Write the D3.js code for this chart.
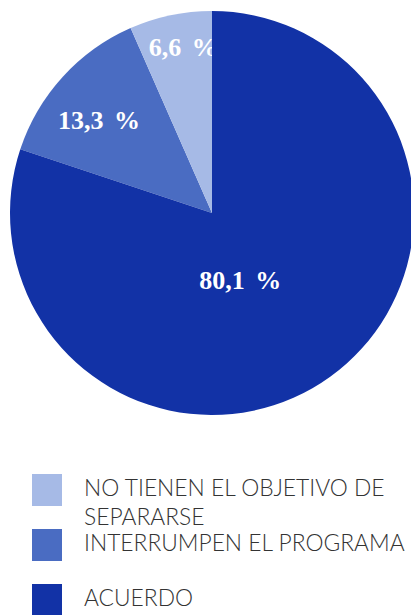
<!DOCTYPE html>
<html>
<head>
<meta charset="utf-8">
<script src="https://cdn.jsdelivr.net/npm/d3@7"></script>
<style>
  html, body { margin: 0; padding: 0; background: #fff; }
  svg { display: block; }
</style>
</head>
<body>
<svg id="chart" width="411" height="615"></svg>
<script>
// slices, clockwise from 12 o'clock
const categories = ['ACUERDO', 'INTERRUMPEN EL PROGRAMA', 'NO TIENEN EL OBJETIVO DE SEPARARSE']
const values = [80.1, 13.3, 6.6]
const labels = ['80,1 %', '13,3 %', '6,6 %']

// legend order (top to bottom) and its text lines
const legendOrder = [2, 1, 0]
const legendLines = [['NO TIENEN EL OBJETIVO DE', 'SEPARARSE'], ['INTERRUMPEN EL PROGRAMA'], ['ACUERDO']]

const colors = ['#1232a6', '#4a6cc2', '#a6bae6']

const svg = d3.select('#chart')
const cx = 212, cy = 213, radius = 202

const pie = d3.pie().sort(null).value(d => d)
const arcs = pie(values)
const arc = d3.arc().innerRadius(0).outerRadius(radius)

const g = svg.append('g').attr('transform', `translate(${cx},${cy})`)

// label placement: radius and angle nudge (degrees) per slice
const labelPos = [{r: 73, da: 13}, {r: 146, da: -3}, {r: 168, da: 2}]

function labelXY(d, i) {
  let a = (d.startAngle + d.endAngle) / 2 + labelPos[i].da * Math.PI / 180
  return [labelPos[i].r * Math.sin(a), -labelPos[i].r * Math.cos(a)]
}

function drawLabel(d, i) {
  let p = labelXY(d, i)
  g.append('text')
    .attr('x', p[0]).attr('y', p[1])
    .attr('text-anchor', 'middle')
    .attr('dominant-baseline', 'central')
    .attr('fill', '#fff')
    .attr('font-family', '"Liberation Serif", "DejaVu Serif", serif')
    .attr('font-weight', 'bold')
    .attr('font-size', 26)
    .attr('word-spacing', 4)
    .text(labels[i])
}

// small slices first, their labels run under the big slice
;[1, 2].forEach(i => {
  g.append('path').attr('d', arc(arcs[i])).attr('fill', colors[i])
})
;[1, 2].forEach(i => drawLabel(arcs[i], i))
g.append('path').attr('d', arc(arcs[0])).attr('fill', colors[0])
drawLabel(arcs[0], 0)

// legend
const legendY = d3.scalePoint().domain(d3.range(legendOrder.length)).range([474, 584])
legendOrder.forEach((k, j) => {
  let y = legendY(j)
  svg.append('rect')
    .attr('x', 32).attr('y', y)
    .attr('width', 30).attr('height', 32)
    .attr('fill', colors[k])
  legendLines[j].forEach((t, li) => {
    svg.append('text')
      .attr('x', 84).attr('y', y + 22 + li * 29)
      .attr('fill', '#333')
      .attr('font-family', 'Lato, "Open Sans", sans-serif')
      .attr('font-weight', 300)
      .attr('font-size', 22.8)
      .text(t)
  })
})
</script>
</body>
</html>
